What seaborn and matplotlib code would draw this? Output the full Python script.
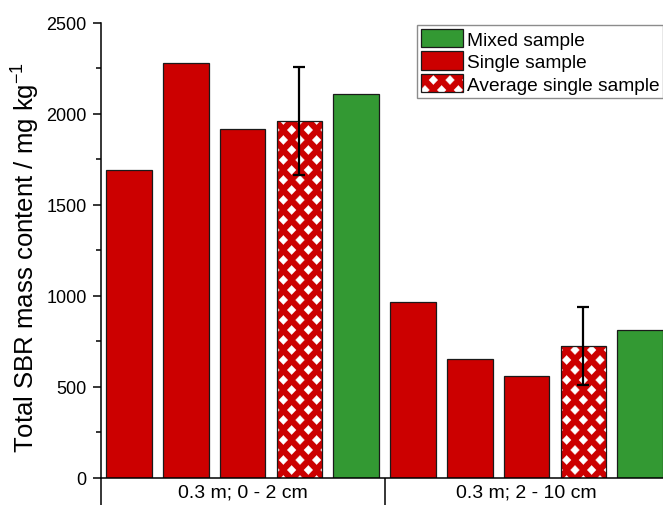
import numpy as np
import pandas as pd
import matplotlib
matplotlib.use('Agg')
import matplotlib.pyplot as plt
from matplotlib import hatch as mhatch
from matplotlib.path import Path
from matplotlib.patches import Patch, Rectangle
from matplotlib.ticker import MultipleLocator
import seaborn as sns

# data
groups = ['0.3 m; 0 - 2 cm', '0.3 m; 2 - 10 cm']
kinds = ['Single sample', 'Single sample', 'Single sample',
         'Average single sample', 'Mixed sample']
values_top = [1690, 2275, 1915, 1960, 2108]
values_deep = [968, 651, 558, 726, 810]
err_top = 295
err_deep = 215
legend_order = ['Mixed sample', 'Single sample', 'Average single sample']
kind_colors = {'Mixed sample': '#339933', 'Single sample': '#CC0000',
               'Average single sample': '#CC0000'}


# staggered white diamonds on red, used in place of the '.' hatch
class DiamondHatch(mhatch.HatchPatternBase):
    def __init__(self, hatch, density):
        n = hatch.count('.')
        self.ncols = 6 * n
        self.nrows = 10 * n
        self.num_vertices = 0
        if n:
            shapes = (self.nrows // 2 + 1) * (self.ncols + 1) + (self.nrows // 2) * self.ncols
            self.num_vertices = shapes * 5

    def set_vertices_and_codes(self, vertices, codes):
        P = 1.0 / self.ncols
        R = 1.0 / self.nrows
        shape = np.array([[0, -0.45 * R], [0.26 * P, 0], [0, 0.45 * R],
                          [-0.26 * P, 0], [0, -0.45 * R]])
        sc = [Path.MOVETO, Path.LINETO, Path.LINETO, Path.LINETO, Path.CLOSEPOLY]
        verts, cds = [], []
        for row in range(self.nrows + 1):
            if row % 2 == 0:
                cols = np.linspace(0, 1, self.ncols + 1)
            else:
                cols = np.linspace(P / 2, 1 - P / 2, self.ncols)
            for c in cols:
                verts.append(shape + [c, row * R])
                cds.append(sc)
        vertices[:] = np.concatenate(verts)
        codes[:] = np.concatenate(cds)


mhatch._hatch_types = [t for t in mhatch._hatch_types
                       if t is not mhatch.SmallFilledCircles] + [DiamondHatch]

sns.set_style('ticks')
plt.rcParams['font.family'] = ['Liberation Sans', 'DejaVu Sans']
plt.rcParams['mathtext.fontset'] = 'custom'
plt.rcParams['mathtext.rm'] = 'Liberation Sans'
plt.rcParams['mathtext.default'] = 'regular'
plt.rcParams['hatch.color'] = 'white'
plt.rcParams['hatch.linewidth'] = 0.3
for key in ['text.color', 'axes.labelcolor', 'xtick.color', 'ytick.color']:
    plt.rcParams[key] = 'black'

rows = []
for g, vals, err in [(groups[0], values_top, err_top), (groups[1], values_deep, err_deep)]:
    for i, (k, v) in enumerate(zip(kinds, vals)):
        rows.append({'bar': f'{g}|{i}', 'group': g, 'kind': k, 'value': v,
                     'err': err if k == 'Average single sample' else np.nan})
df = pd.DataFrame(rows)
palette = {b: kind_colors[k] for b, k in zip(df['bar'], df['kind'])}

fig = plt.figure(figsize=(6.63, 5.06), dpi=100)
ax = fig.add_axes([100.6 / 663, 27 / 506, 568 / 663, 455.5 / 506])

sns.barplot(data=df, x='bar', y='value', hue='bar', palette=palette, legend=False,
            width=0.8, saturation=1, errorbar=None, edgecolor='#1a1a1a',
            linewidth=0.9, ax=ax)

# hatch the average bars
bars = sorted(ax.patches, key=lambda p: p.get_x())
for p, k in zip(bars, df['kind']):
    if k == 'Average single sample':
        p.set_edgecolor('white')
        p.set_linewidth(0)
        p.set_hatch('.')
        ax.add_patch(Rectangle((p.get_x(), p.get_y()), p.get_width(), p.get_height(),
                               fill=False, edgecolor='#1a1a1a', linewidth=0.9,
                               zorder=p.get_zorder()))

avg = df[df['kind'] == 'Average single sample']
ax.errorbar(avg.index, avg['value'], yerr=avg['err'], fmt='none', ecolor='black',
            elinewidth=1.6, capsize=4.5, capthick=1.6, zorder=5)

ax.set_xlim(-0.5, 9.5)
ax.set_ylim(0, 2500)
ax.yaxis.set_major_locator(MultipleLocator(500))
ax.yaxis.set_minor_locator(MultipleLocator(250))
ax.set_xticks([-0.5, 4.5, 9.5])
ax.set_xticklabels(['', '', ''])
ax.set_xticks([2, 7], minor=True)
ax.set_xticklabels(groups, minor=True, fontsize=14)
ax.tick_params(axis='x', which='major', length=19.5, width=1.1, direction='out')
ax.tick_params(axis='x', which='minor', length=0, pad=4)
ax.tick_params(axis='y', which='major', length=6, width=1.1, labelsize=13, pad=4)
ax.tick_params(axis='y', which='minor', length=3.5, width=1.1)
ax.set_xlabel('')
ax.set_ylabel('Total SBR mass content / mg kg$^{-1}$', fontsize=18.5, labelpad=3)
ax.yaxis.label.set_y(0.487)
sns.despine(ax=ax)
for s in ['left', 'bottom']:
    ax.spines[s].set_linewidth(1.1)
    ax.spines[s].set_color('black')

handles = [Patch(facecolor=kind_colors['Mixed sample'], edgecolor='#1a1a1a', linewidth=0.9),
           Patch(facecolor=kind_colors['Single sample'], edgecolor='#1a1a1a', linewidth=0.9),
           (Patch(facecolor=kind_colors['Average single sample'], edgecolor='white',
                  linewidth=0, hatch='.'),
            Patch(fill=False, edgecolor='#1a1a1a', linewidth=0.9))]
leg = fig.legend(handles, legend_order, loc='upper left',
                 bbox_to_anchor=(417 / 663, 1 - 26 / 506), fontsize=13.8, frameon=True,
                 fancybox=False, edgecolor='#8c8c8c', framealpha=1, borderpad=0.2,
                 labelspacing=0.15, handlelength=2.2, handleheight=1.1,
                 handletextpad=0.2, borderaxespad=0)
leg.get_frame().set_linewidth(1)

fig.savefig('out.png', dpi=100)
